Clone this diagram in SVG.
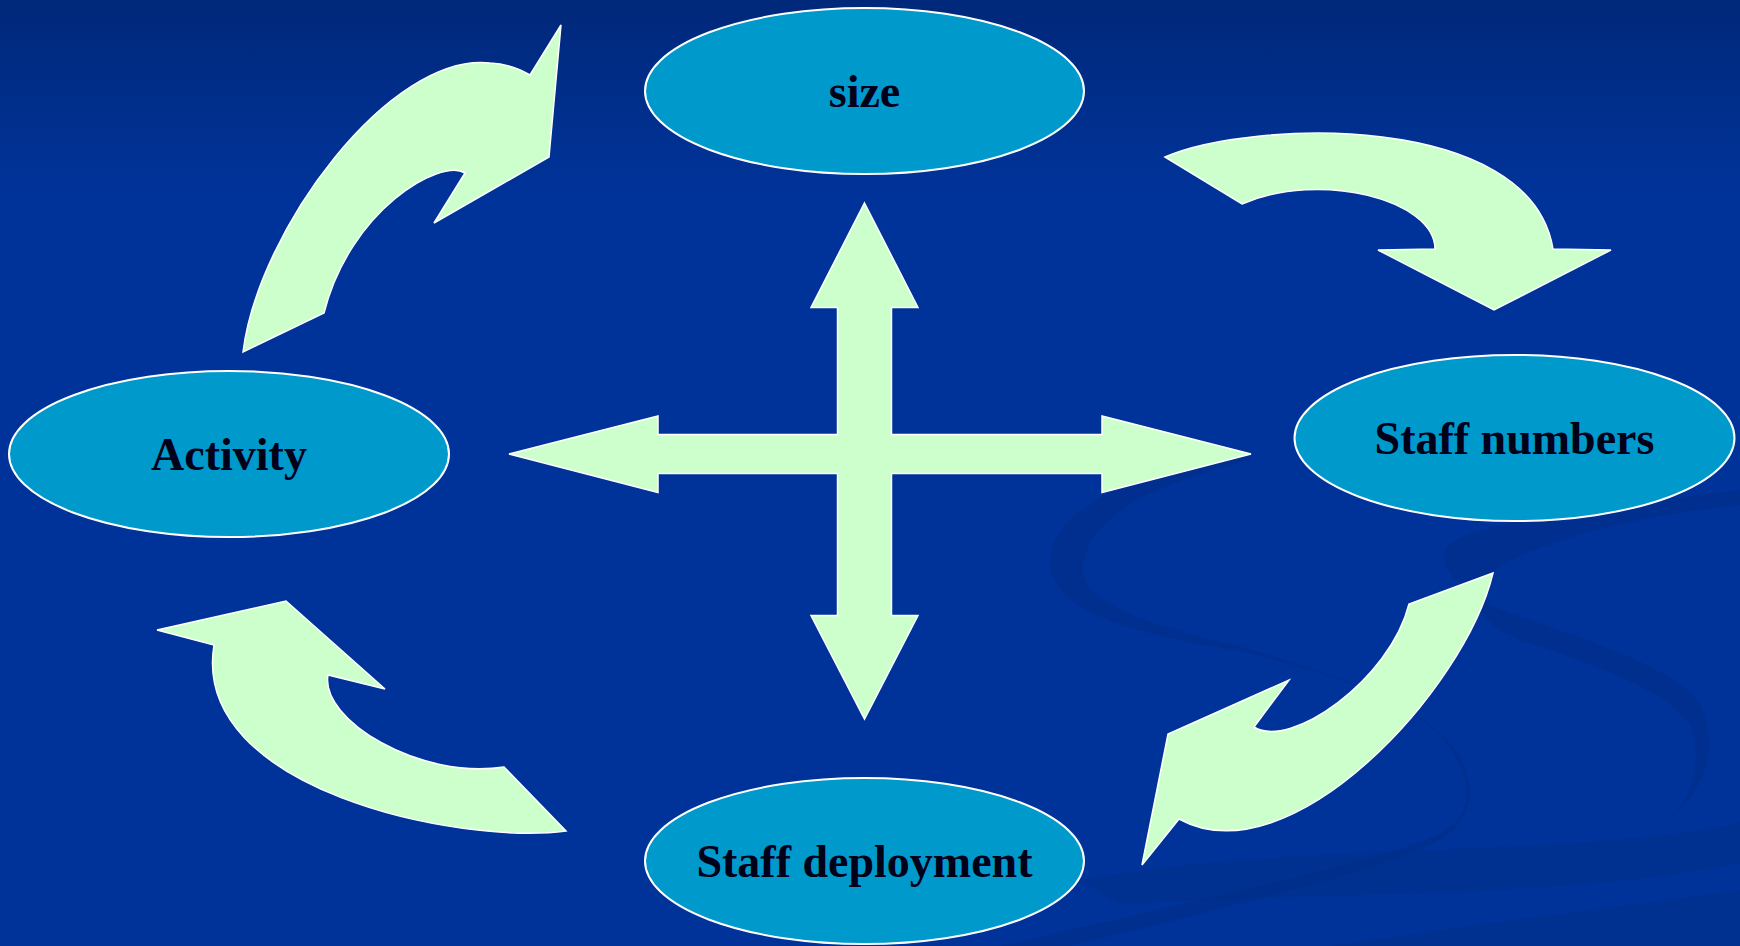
<svg xmlns="http://www.w3.org/2000/svg" width="1740" height="946" viewBox="0 0 1740 946">
  <defs>
    <linearGradient id="bg" x1="0" y1="0" x2="0" y2="1">
      <stop offset="0" stop-color="#00287a"/>
      <stop offset="0.2" stop-color="#003399"/>
      <stop offset="1" stop-color="#003399"/>
    </linearGradient>
    <style>
      .node ellipse { fill: #0099cc; stroke: #ffffff; stroke-width: 2; }
      .node text { font-family: "Liberation Serif", "Times New Roman", serif; font-weight: bold; font-size: 46px; fill: #000018; text-anchor: middle; }
      .arrow { fill: #ccffcc; stroke: #ffffff; stroke-width: 1.5; stroke-linejoin: miter; }
      .swoosh { fill: #002d88; }
    </style>
  </defs>

  <!-- background -->
  <rect x="0" y="0" width="1740" height="946" fill="url(#bg)"/>

  <!-- decorative background swirls -->
  <g id="background-swirls">
    <!-- loop behind the right half of the cross -->
    <path class="swoosh" d="M1250,452 C1150,470 1060,500 1050,555 C1045,600 1100,630 1236,650 C1330,672 1420,705 1448,745 C1480,790 1470,825 1425,840 C1380,858 1300,878 1000,946 L1070,946 C1300,890 1390,865 1440,840 C1480,815 1475,780 1455,750 C1420,700 1320,670 1236,645 C1120,620 1080,595 1083,565 C1090,510 1170,480 1250,460 Z" opacity="0.6"/>
    <!-- loop under the Staff numbers ellipse -->
    <path class="swoosh" d="M1740,490 C1620,505 1470,520 1446,547 C1438,565 1455,590 1500,609 C1560,632 1660,660 1694,696 C1720,730 1715,790 1661,823 C1700,800 1700,750 1690,725 C1670,690 1580,660 1520,640 C1470,620 1470,590 1495,570 C1540,540 1640,515 1740,505 Z" opacity="0.6"/>
    <!-- ribbons along the bottom right -->
    <path class="swoosh" d="M1080,880 C1300,840 1560,860 1740,823 L1740,863 C1560,900 1320,890 1120,905 Z" opacity="0.55"/>
    <path class="swoosh" d="M1330,946 C1500,920 1640,905 1740,890 L1740,946 Z" opacity="0.55"/>
  </g>

  <!-- connectors -->
  <g id="connectors">
    <!-- central four-way arrow -->
    <polygon class="arrow" points="864.5,203 918,307.5 891.5,307.5 891.5,434.5 1102,434.5 1102,416 1251,454 1102,492.5 1102,473.5 891.5,473.5 891.5,615.5 918,615.5 864.5,719 811,615.5 837.5,615.5 837.5,473.5 658,473.5 658,492.5 509,454 658,416 658,434.5 837.5,434.5 837.5,307.5 811,307.5"/>
    <!-- Activity to size -->
    <path class="arrow" d="M243,352 C258,230 390,52 490,63 Q512,64 530,75 L561,25 L549,157 L434,223 L465,173 C440,158 350,210 324,313 Z"/>
    <!-- size to Staff numbers -->
    <path class="arrow" d="M1165,157 C1250,120 1530,110 1553,249 L1611,250 L1494,310 L1378,250 L1435,249 C1435,200 1320,170 1242,204 Z"/>
    <!-- Staff numbers to Staff deployment -->
    <path class="arrow" d="M1493,573 C1465,690 1290,880 1179,819 L1142,865 L1168,734 L1289,680 L1254,727 C1290,750 1390,680 1409,604 Z"/>
    <!-- Staff deployment to Activity -->
    <path class="arrow" d="M566,831 C460,845 190,790 214,645 L157,630 L286,601 L385,689 L328,675 C320,720 420,780 504,767 Z"/>
  </g>

  <!-- nodes -->
  <g id="node-size" class="node">
    <ellipse cx="864.5" cy="91" rx="219.5" ry="83"/>
    <text x="864.5" y="107">size</text>
  </g>
  <g id="node-staff-numbers" class="node">
    <ellipse cx="1514.5" cy="438" rx="220" ry="83"/>
    <text x="1514.5" y="454">Staff numbers</text>
  </g>
  <g id="node-staff-deployment" class="node">
    <ellipse cx="864.5" cy="861" rx="219.5" ry="83"/>
    <text x="864.5" y="877">Staff deployment</text>
  </g>
  <g id="node-activity" class="node">
    <ellipse cx="229" cy="454" rx="220" ry="83"/>
    <text x="229" y="470">Activity</text>
  </g>
</svg>
